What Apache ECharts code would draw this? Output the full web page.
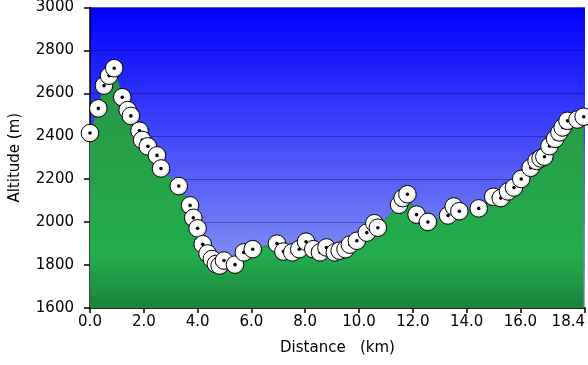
<!DOCTYPE html>
<html>
<head>
<meta charset="utf-8">
<script src="https://cdn.jsdelivr.net/npm/echarts@6/dist/echarts.min.js"></script>
<style>
html,body{margin:0;padding:0;background:#fff;}
#chart{width:588px;height:365px;}
</style>
</head>
<body>
<div id="chart"></div>
<script>
// Distance (km) of each track point
const distances = [0.00,0.31,0.52,0.71,0.90,1.20,1.40,1.52,1.84,1.94,2.15,2.49,2.64,3.30,3.72,3.84,4.00,4.19,4.37,4.53,4.68,4.82,4.98,5.39,5.72,6.05,6.95,7.19,7.52,7.78,8.03,8.30,8.55,8.79,9.10,9.28,9.50,9.66,9.92,10.29,10.57,10.70,11.49,11.62,11.80,12.14,12.56,13.31,13.52,13.73,14.45,14.99,15.27,15.54,15.76,16.03,16.38,16.60,16.75,16.89,17.08,17.29,17.45,17.57,17.75,18.12,18.35];
// Altitude (m) of each track point
const altitudes = [2415,2530,2636,2682,2717,2582,2522,2495,2426,2383,2353,2311,2250,2168,2078,2020,1971,1897,1854,1828,1805,1798,1821,1802,1859,1874,1900,1863,1859,1874,1909,1874,1859,1882,1859,1867,1874,1895,1913,1951,1995,1974,2081,2112,2130,2035,2001,2031,2073,2051,2064,2118,2112,2143,2161,2201,2253,2285,2297,2305,2354,2388,2418,2441,2472,2478,2491];
// Tick labels
const xTicks = [0,2,4,6,8,10,12,14,16,18.4];
const yTicks = [1600,1800,2000,2200,2400,2600,2800,3000];

const points = distances.map((d, i) => [d, altitudes[i]]);
const FONT = 'DejaVu Sans';
const FS = 15;

const chart = echarts.init(document.getElementById('chart'), null, {renderer: 'canvas'});
chart.setOption({
  backgroundColor: '#ffffff',
  animation: false,
  grid: {
    left: 88, right: 1, top: 4, bottom: 57,
    show: true,
    borderWidth: 0,
    backgroundColor: {
      type: 'linear', x: 0, y: 0, x2: 0, y2: 1,
      colorStops: [{offset: 0, color: '#0000ff'}, {offset: 1, color: '#98a8f0'}]
    }
  },
  xAxis: {
    type: 'value',
    min: 0, max: 18.4,
    name: 'Distance   (km)',
    nameLocation: 'middle',
    nameGap: 33,
    nameTextStyle: {fontFamily: FONT, fontSize: FS, color: '#000'},
    axisLine: {show: true, onZero: false, lineStyle: {color: '#000', width: 1.5}},
    axisTick: {show: true, length: 5, customValues: xTicks, lineStyle: {color: '#000', width: 1.5}},
    axisLabel: {
      customValues: xTicks,
      fontFamily: FONT, fontSize: FS, color: '#000', margin: 7,
      alignMaxLabel: 'right',
      formatter: v => Number(v).toFixed(1)
    },
    splitLine: {show: false}
  },
  yAxis: {
    type: 'value',
    min: 1600, max: 3000, interval: 200,
    name: 'Altitude (m)',
    nameLocation: 'middle',
    nameGap: 67,
    nameTextStyle: {fontFamily: FONT, fontSize: FS, color: '#000'},
    axisLine: {show: true, lineStyle: {color: '#000', width: 1.5}},
    axisTick: {show: true, length: 6, lineStyle: {color: '#000', width: 1.5}},
    axisLabel: {
      fontFamily: FONT, fontSize: FS, color: '#000', margin: 16,
      customValues: yTicks,
      formatter: v => String(v)
    },
    splitLine: {show: true, lineStyle: {color: 'rgba(0,0,90,0.35)', width: 1}}
  },
  series: [
    {
      type: 'line',
      data: points,
      showSymbol: false,
      symbol: 'none',
      z: 2,
      lineStyle: {width: 1, color: '#1f9040'},
      areaStyle: {
        opacity: 1,
        origin: 'start',
        color: {
          type: 'linear', x: 0, y: 0, x2: 0, y2: 1,
          colorStops: [
            {offset: 0, color: '#2a9444'},
            {offset: 0.78, color: '#22ad4c'},
            {offset: 1, color: '#1c823a'}
          ]
        }
      }
    },
    {
      type: 'custom',
      data: points,
      clip: false,
      z: 5,
      encode: {x: 0, y: 1},
      renderItem: function (params, api) {
        const p = api.coord([api.value(0), api.value(1)]);
        return {
          type: 'group',
          children: [
            {
              type: 'circle',
              shape: {cx: p[0], cy: p[1], r: 8.8},
              style: {
                fill: new echarts.graphic.RadialGradient(0.4, 0.4, 0.62, [
                  {offset: 0, color: '#ffffff'},
                  {offset: 0.7, color: '#ffffff'},
                  {offset: 1, color: '#cfcfcf'}
                ]),
                stroke: '#000', lineWidth: 1
              }
            },
            {
              type: 'circle',
              shape: {cx: p[0], cy: p[1], r: 1.8},
              style: {fill: '#000'}
            }
          ]
        };
      }
    }
  ]
});
</script>
</body>
</html>
